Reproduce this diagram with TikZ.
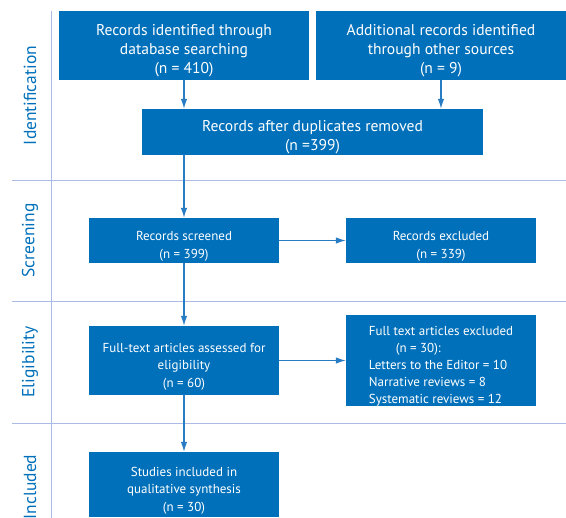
\documentclass[tikz,border=0pt]{standalone}
\usepackage{fontspec}
\setmainfont{PT Sans}
\usetikzlibrary{positioning, arrows.meta}

\definecolor{boxblue}{RGB}{0,112,186}
\definecolor{arrowblue}{RGB}{40,124,196}
\definecolor{laneline}{RGB}{170,188,228}

% strut that sets the text a little lower in its box
\newcommand{\boxlift}{\rule{0pt}{21pt}}

\tikzset{
  box/.style={fill=boxblue, text=white, inner sep=0pt, align=center},
  bigbox/.style={box, font=\fontsize{15.6}{19}\selectfont},
  smallbox/.style={box, font=\fontsize{13}{17.5}\selectfont},
  listbox/.style={box, align=left, font=\fontsize{13}{17}\selectfont},
  lanelabel/.style={rotate=90, text=boxblue, font=\fontsize{17.5}{20}\selectfont},
  flow/.style={->, draw=arrowblue, line width=1.2pt}
}

\begin{document}
\begin{tikzpicture}[x=1pt, y=-1pt, >={Latex[length=10pt,width=6.5pt]}]

\useasboundingbox (0,0) rectangle (566,518);

% Lanes: separators and the column rule
\foreach \y in {180, 301, 423} {
  \draw [laneline, line width=0.9pt] (12,\y) -- (566,\y);
}
\draw [laneline, line width=0.9pt] (51,11) -- (51,518);

% Lane names
\foreach \y/\lab in {95.5/Identification, 240.5/Screening, 362/Eligibility, 487/Included} {
  \node [lanelabel] at (30,\y) {\lab};
}

% Identification
\node [bigbox, minimum width=250pt, minimum height=69pt] (idDb) at (184,45.5)
  {\boxlift Records identified through\\database searching\\(n = 410)};
\node [bigbox, minimum width=250pt, minimum height=69pt] (idOther) at (441,45.5)
  {\boxlift Additional records identified\\through other sources\\(n = 9)};
\node [bigbox, minimum width=341pt, minimum height=46pt] (dupl) at (312.5,132)
  {\boxlift Records after duplicates removed\\(n =399)};

% Screening
\node [smallbox, minimum width=190pt, minimum height=45pt] (screened) at (184,240.5)
  {\boxlift Records screened\\(n = 399)};
\node [smallbox, minimum width=190pt, minimum height=45pt] (excl) at (441,240.5)
  {\boxlift Records excluded\\(n = 339)};

% Eligibility
\node [smallbox, minimum width=190pt, minimum height=69pt] (assessed) at (184,360.5)
  {\boxlift Full-text articles assessed for\\eligibility\\(n = 60)};
\node [listbox, minimum width=190pt, minimum height=91pt] (ftExcl) at (441,360.5)
  {\boxlift Full text articles excluded\\\hspace*{27pt}(n = 30):\\Letters to the Editor = 10\\Narrative reviews = 8\\Systematic reviews = 12};

% Included
\node [smallbox, minimum width=190pt, minimum height=65pt] (incl) at (184,484.5)
  {\boxlift Studies included in\\qualitative synthesis\\(n = 30)};

% Arrows
\draw [flow] (idDb.south) -- (idDb.south |- dupl.north);
\draw [flow] (idOther.south) -- (idOther.south |- dupl.north);
\draw [flow] (dupl.south -| screened.north) -- (screened.north);
\draw [flow] (screened) -- (assessed);
\draw [flow] (assessed) -- (incl);
\draw [flow] (screened) -- (excl);
\draw [flow] (assessed) -- (ftExcl);

\end{tikzpicture}
\end{document}
